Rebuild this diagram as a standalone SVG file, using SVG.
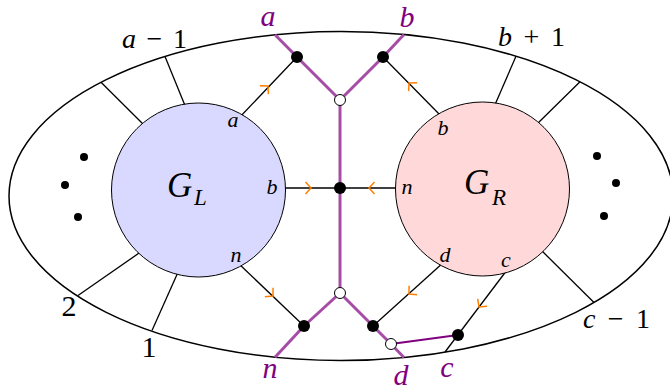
<svg xmlns="http://www.w3.org/2000/svg" xmlns:xlink="http://www.w3.org/1999/xlink" width="670" height="391" viewBox="0 0 670 391" font-family="Liberation Serif, Times New Roman, serif">
<style>
.ln{stroke:#000;stroke-width:1.3;fill:none}
.pl{stroke:#a64ca6;stroke-width:3;fill:none;stroke-linejoin:round}
.pt{stroke:#800080;stroke-width:2;fill:none}
.ch{stroke:#ff8000;stroke-width:1.5;fill:none}
.bd{fill:#000}
.wd{fill:#fff;stroke:#000;stroke-width:1}
.i{font-style:italic}
.pu{fill:#800080}
.m{text-anchor:middle}
</style>
<defs>
<path id="chev" d="M-5.5,-6 L0,0 L-5.5,6"/>
</defs>
<g id="boundary">
<ellipse cx="341" cy="196" rx="332" ry="164.5" fill="none" stroke="#000" stroke-width="1.5"/>
</g>
<g id="connectors">
<line class="ln" x1="165" y1="56.5" x2="186" y2="108"/>
<line class="ln" x1="101" y1="82.3" x2="146" y2="127"/>
<line class="ln" x1="516" y1="56.2" x2="494" y2="107"/>
<line class="ln" x1="580" y1="81.8" x2="535" y2="126"/>
<line class="ln" x1="78" y1="295.5" x2="142" y2="251"/>
<line class="ln" x1="152" y1="330.5" x2="179" y2="270"/>
<line class="ln" x1="594" y1="302.5" x2="539" y2="248"/>
<line class="ln" x1="238" y1="119" x2="297" y2="57"/>
<line class="ln" x1="442" y1="117" x2="383" y2="57"/>
<line class="ln" x1="280" y1="188" x2="340" y2="188"/>
<line class="ln" x1="400" y1="188" x2="340" y2="188"/>
<line class="ln" x1="238" y1="263" x2="304" y2="326"/>
<line class="ln" x1="444" y1="262" x2="373" y2="326"/>
<line class="ln" x1="507" y1="270" x2="445" y2="352"/>
<polyline class="pl" points="275,34.8 297,57 340,100 383,57 404,34.5"/>
<line class="pl" x1="340" y1="100" x2="340" y2="293"/>
<polyline class="pl" points="275,357.2 304,326 340,293 373,326 391,344 404,357.5"/>
<line class="pt" x1="391" y1="344" x2="458" y2="335"/>
<use xlink:href="#chev" class="ch" transform="translate(268,86) rotate(-45)"/>
<use xlink:href="#chev" class="ch" transform="translate(409,83) rotate(-135)"/>
<use xlink:href="#chev" class="ch" transform="translate(311,188)"/>
<use xlink:href="#chev" class="ch" transform="translate(369,188) rotate(180)"/>
<use xlink:href="#chev" class="ch" transform="translate(273,296) rotate(43)"/>
<use xlink:href="#chev" class="ch" transform="translate(409,294) rotate(138)"/>
<use xlink:href="#chev" class="ch" transform="translate(479,307) rotate(128)"/>
</g>
<g id="GL">
<circle cx="198.5" cy="190" r="87" fill="#d9d9ff" stroke="#000" stroke-width="1"/>
<text class="i" x="167" y="197" font-size="35">G</text>
<text class="i" x="194" y="205" font-size="23">L</text>
<text class="i m" x="233" y="127" font-size="22">a</text>
<text class="i m" x="272" y="194" font-size="22">b</text>
<text class="i m" x="236" y="262" font-size="22">n</text>
</g>
<g id="GR">
<circle cx="482.5" cy="189" r="87" fill="#ffd9d9" stroke="#000" stroke-width="1"/>
<text class="i" x="464" y="194" font-size="35">G</text>
<text class="i" x="492" y="205" font-size="23">R</text>
<text class="i m" x="443" y="135" font-size="22">b</text>
<text class="i m" x="407" y="194" font-size="22">n</text>
<text class="i m" x="445" y="262" font-size="22">d</text>
<text class="i m" x="506" y="267" font-size="22">c</text>
</g>
<g id="vertices">
<circle class="bd" cx="297" cy="57" r="6"/>
<circle class="bd" cx="383" cy="57" r="6"/>
<circle class="bd" cx="340" cy="188" r="6"/>
<circle class="bd" cx="304" cy="326" r="6"/>
<circle class="bd" cx="373" cy="326" r="6"/>
<circle class="bd" cx="458" cy="335" r="6"/>
<circle class="wd" cx="340" cy="100" r="5.5"/>
<circle class="wd" cx="340" cy="293" r="5.5"/>
<circle class="wd" cx="391" cy="344" r="5.5"/>
</g>
<g id="ellipsis">
<circle class="bd" cx="84" cy="157" r="4"/>
<circle class="bd" cx="65" cy="185" r="4"/>
<circle class="bd" cx="78" cy="217" r="4"/>
<circle class="bd" cx="597" cy="156" r="4"/>
<circle class="bd" cx="616" cy="183" r="4"/>
<circle class="bd" cx="604" cy="216" r="4"/>
</g>
<g id="labels">
<text x="122" y="48" font-size="28" textLength="65" lengthAdjust="spacing"><tspan class="i">a</tspan> − 1</text>
<text x="498" y="46" font-size="28" textLength="67" lengthAdjust="spacing"><tspan class="i">b</tspan> + 1</text>
<text x="583" y="328" font-size="28" textLength="67" lengthAdjust="spacing"><tspan class="i">c</tspan> − 1</text>
<text class="m" x="69" y="316" font-size="30">2</text>
<text class="m" x="149" y="357" font-size="30">1</text>
<text class="i m pu" x="268" y="26" font-size="30">a</text>
<text class="i m pu" x="407" y="27" font-size="30">b</text>
<text class="i m pu" x="270" y="378" font-size="30">n</text>
<text class="i m pu" x="401" y="385" font-size="30">d</text>
<text class="i m pu" x="447" y="377" font-size="30">c</text>
</g>
</svg>
